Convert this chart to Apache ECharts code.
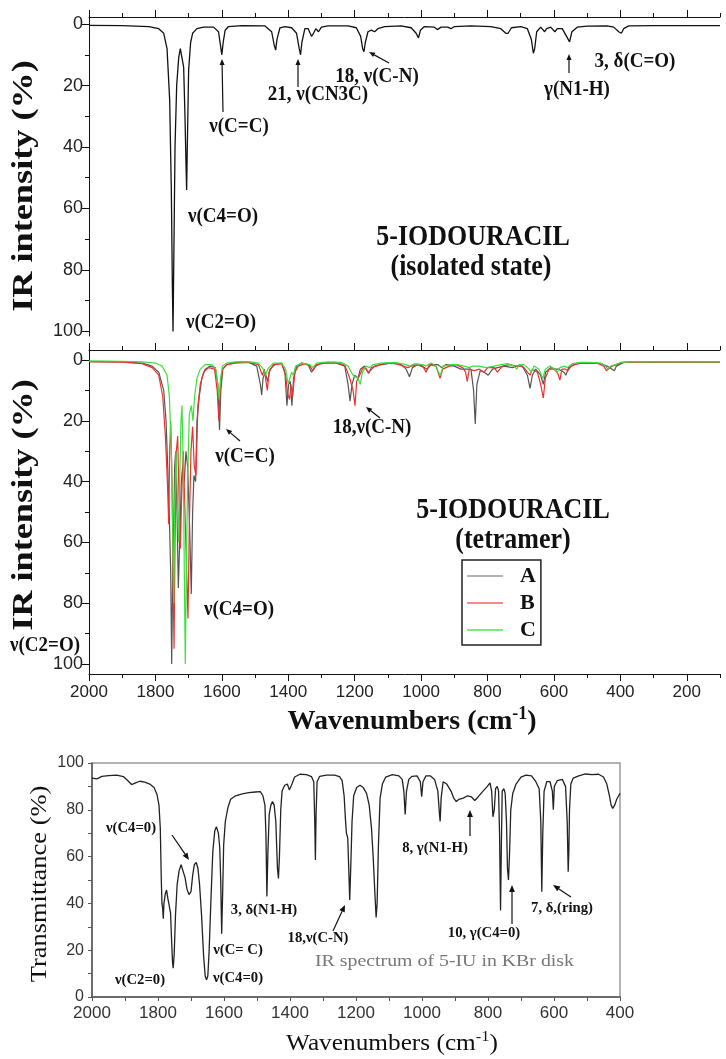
<!DOCTYPE html>
<html>
<head>
<meta charset="utf-8">
<script src="https://cdn.jsdelivr.net/npm/echarts@6/dist/echarts.min.js"></script>
<style>
  html, body { margin: 0; padding: 0; background: #fff; }
  #chart { width: 726px; height: 1059px; }
</style>
</head>
<body>
<div id="chart"></div>
<script>
// [wavenumber, IR intensity %] - isolated molecule (calculated)
var isolated = [[2000,0.4],[1900,0.5],[1820,0.8],[1790,1.5],[1775,3],[1765,8],[1757,25],[1752,55],[1749,85],[1747,100],[1745,80],[1741,40],[1736,20],[1730,11],[1725,8],[1720,8.5],[1715,14],[1711,30],[1708,45],[1706,54],[1704,40],[1700,15],[1694,6],[1688,3],[1675,1.5],[1655,1],[1625,1],[1610,2.5],[1604,7],[1600,10],[1596,6],[1590,2],[1580,0.8],[1540,0.5],[1470,0.6],[1450,2.5],[1442,7],[1438,8.5],[1434,5],[1425,1.2],[1410,0.8],[1390,1.2],[1375,3],[1367,8],[1363,10],[1359,6],[1350,1.5],[1340,1.5],[1330,4],[1324,3],[1317,1.5],[1309,2.5],[1300,1],[1280,0.6],[1220,0.6],[1195,1.2],[1182,4],[1176,8],[1172,9],[1168,6],[1160,2.5],[1150,2],[1140,2.5],[1130,1.5],[1110,0.8],[1060,0.6],[1030,1.2],[1015,3],[1008,4.5],[1002,2],[990,0.8],[960,1],[951,1.8],[940,1],[920,1],[910,1.5],[900,0.8],[850,0.6],[790,0.8],[760,1.5],[745,3],[738,3],[728,1.2],[700,0.8],[680,1.5],[668,5],[662,9.5],[658,8],[652,2.5],[640,1],[628,2.5],[622,1.5],[610,1],[597,2.5],[590,1.5],[575,1.5],[562,4],[553,5.8],[546,2.5],[530,1],[500,0.7],[440,0.6],[420,1],[405,2.5],[397,3],[390,1.5],[375,0.6],[300,0.5],[200,0.5],[100,0.5]];

// tetramer forms A, B, C
var tetramerA = [[2000,0.5],[1900,0.6],[1840,1],[1810,2],[1790,4],[1775,10],[1768,20],[1763,35],[1758,52],[1754,70],[1751,100],[1748,70],[1745,55],[1742,35],[1739,30],[1735,50],[1731,75],[1727,60],[1722,40],[1718,35],[1713,40],[1708,30],[1703,35],[1697,55],[1692,77],[1688,50],[1684,38],[1679,40],[1675,20],[1668,12],[1660,6],[1650,3],[1635,2],[1620,2.5],[1612,8],[1607,23],[1603,10],[1597,3],[1585,1.5],[1560,0.8],[1520,0.7],[1495,2],[1484,8],[1480,11.5],[1476,6],[1470,4],[1462,7],[1455,3],[1440,1.5],[1420,1],[1410,4],[1404,15],[1399,8],[1394,7],[1389,15],[1384,6],[1375,2],[1360,1],[1340,1.5],[1330,4],[1324,4.5],[1318,2],[1300,1],[1260,0.8],[1230,2],[1220,8],[1214,13.5],[1208,8],[1200,5],[1190,6],[1183,3],[1170,2],[1160,4],[1153,3.5],[1140,2],[1120,1.5],[1090,1],[1060,1.5],[1045,3],[1035,5.5],[1026,2.5],[1010,1.5],[990,2.5],[982,3],[970,1.5],[950,1.5],[938,2.5],[925,1.5],[900,2],[880,3],[868,3],[850,3],[842,10],[837,21],[832,8],[822,3.5],[810,4],[798,5],[785,3],[770,2.5],[750,2],[725,2.5],[712,2],[695,2],[680,5],[672,9.3],[665,5],[655,3],[640,5],[632,8],[625,4],[610,2.5],[595,3],[585,3],[570,4],[564,5],[556,2.5],[540,1.5],[520,1],[490,1],[460,1.2],[440,2],[425,3],[418,3.5],[412,2],[390,0.8],[350,0.6],[300,0.8],[250,0.7],[200,0.6],[150,0.8],[100,0.7]];
var tetramerB = [[2000,0.5],[1900,0.7],[1840,1.2],[1810,2.5],[1790,5],[1778,12],[1770,25],[1764,40],[1760,54],[1757,30],[1754,20],[1750,40],[1747,70],[1744,95],[1741,60],[1737,30],[1733,25],[1729,45],[1725,62],[1721,45],[1716,30],[1711,50],[1706,70],[1702,85],[1698,55],[1693,30],[1688,22],[1683,35],[1678,38],[1672,15],[1665,8],[1655,4],[1640,2.5],[1622,3],[1614,10],[1609,20],[1605,10],[1598,3],[1585,1.5],[1560,1],[1520,0.8],[1490,1.5],[1478,5],[1472,3],[1467,7],[1463,10],[1458,4],[1445,1.5],[1420,1.2],[1408,5],[1402,11],[1396,13],[1392,8],[1387,12],[1380,4],[1370,2],[1350,1.2],[1335,2],[1326,3.5],[1315,1.5],[1290,1],[1255,1],[1230,1.5],[1215,6],[1205,10],[1199,15],[1194,7],[1185,5],[1175,2.5],[1165,3],[1158,4.4],[1150,2.5],[1135,2],[1115,1.2],[1080,1],[1040,2.5],[1030,2],[1010,1.5],[995,2],[985,4],[975,1.5],[955,2],[943,6],[935,3],[915,2],[895,1.5],[875,2.5],[866,4],[861,7],[855,3],[840,3.5],[825,3],[810,4],[800,2.5],[780,2.5],[770,4],[765,4],[755,2],[735,1.5],[715,2],[700,2],[690,2.5],[680,4],[672,5],[665,3],[650,4],[640,8],[632,12.5],[626,6],[615,3],[600,3],[588,4.5],[582,6.6],[576,3],[565,3],[558,3.5],[548,2],[530,1.2],[500,1],[470,1],[450,2],[442,3.5],[436,3],[425,2],[410,1.5],[395,0.8],[350,0.7],[300,0.6],[250,0.8],[200,0.7],[150,0.6],[100,0.7]];
var tetramerC = [[2000,0.3],[1900,0.4],[1840,0.6],[1800,1],[1780,2],[1765,5],[1758,12],[1752,30],[1748,55],[1745,80],[1742,50],[1738,30],[1734,45],[1730,60],[1727,40],[1723,20],[1720,15],[1716,35],[1713,70],[1710,100],[1707,70],[1703,40],[1698,18],[1692,15],[1687,20],[1682,12],[1675,6],[1665,3],[1650,1.5],[1630,1.5],[1618,3],[1612,8],[1608,13],[1604,6],[1598,2],[1585,1],[1560,0.6],[1520,0.5],[1490,1],[1475,3],[1468,5],[1462,3],[1445,1],[1420,1],[1408,3],[1400,8],[1395,6],[1390,4],[1385,5],[1378,2],[1360,1],[1335,1.5],[1326,2.5],[1315,1],[1280,0.6],[1240,0.8],[1220,2],[1205,5],[1190,6],[1183,8],[1177,4],[1165,2],[1155,2.5],[1145,1.5],[1120,1],[1080,0.8],[1045,1.5],[1035,2],[1020,1.2],[995,1.5],[985,2],[970,1],[955,2],[948,4],[942,5],[934,2],[910,1.5],[890,1.5],[870,2],[855,2.5],[845,2],[825,2],[805,2.5],[780,2],[760,1.5],[740,1.2],[720,2],[712,3],[705,1.5],[690,1.5],[675,3],[668,4],[660,2],[645,3],[638,5],[633,6],[626,3],[612,2],[598,3],[590,4],[582,2.5],[568,2],[560,2.5],[545,1.2],[520,0.8],[490,0.8],[460,1],[445,2],[438,3],[430,2],[415,1.5],[400,0.8],[350,0.5],[300,0.6],[250,0.5],[200,0.6],[150,0.5],[100,0.6]];

// [wavenumber, transmittance %] - experimental KBr disk
var kbrDisk = [[2000,93.5],[1985,93.2],[1970,94.3],[1950,94.6],[1925,94.8],[1905,94.2],[1892,92.5],[1880,90.8],[1868,91.5],[1855,92.2],[1840,91.8],[1825,91],[1812,89.5],[1803,86.5],[1797,82],[1793,72],[1790,50],[1788,40],[1786,38],[1784,33.5],[1782,40],[1778,44],[1774,45.7],[1770,42],[1766,39],[1762,36],[1759,25],[1756,15],[1754,12.3],[1751,18],[1747,35],[1742,48],[1736,54],[1730,56.5],[1724,56],[1718,51],[1712,46],[1706,43.8],[1700,45],[1695,52],[1690,56.5],[1684,57.5],[1679,55],[1674,48],[1668,35],[1662,18],[1657,9],[1653,7.3],[1649,9],[1645,20],[1640,40],[1634,62],[1628,71],[1623,72.8],[1617,70],[1613,64],[1610,50],[1607,27],[1604,45],[1601,65],[1596,75],[1588,81],[1580,84.5],[1565,86],[1545,86.8],[1525,87.3],[1505,87.6],[1490,87.8],[1482,86],[1476,82],[1473,70],[1470,43],[1467,62],[1463,78],[1458,82],[1453,83.5],[1448,82],[1443,75],[1438,55],[1435,50.7],[1432,60],[1428,80],[1424,88],[1416,90.5],[1408,91],[1402,88.5],[1398,87.7],[1394,91],[1386,94],[1370,95.2],[1350,95],[1335,94.2],[1328,92],[1325,75],[1323,58.5],[1321,78],[1318,92],[1310,94.3],[1290,94.8],[1265,94.8],[1250,94.2],[1242,92.5],[1236,86],[1232,76],[1229,70],[1225,68],[1222,55],[1219,41.5],[1216,55],[1212,75],[1207,86],[1198,89.5],[1188,90.5],[1178,89.5],[1168,87],[1160,82],[1153,72],[1148,60],[1143,45],[1139,34],[1136,40],[1132,65],[1127,85],[1120,91],[1110,94],[1090,95],[1070,94.5],[1060,93],[1055,88],[1051,78],[1047,88],[1040,93],[1030,94.3],[1015,94.5],[1005,92],[1001,85.6],[997,92],[988,94.5],[975,94.5],[962,93],[952,88],[947,78],[945,75],[942,85],[936,92],[925,91],[912,88],[904,85],[896,83.5],[888,84.5],[875,85],[862,86],[850,85.5],[840,84],[830,85.5],[815,88],[802,90],[794,91.5],[789,88],[785,77],[781,80],[777,89],[772,90],[768,88],[765,70],[762,37],[760,60],[757,88],[752,89],[748,87],[744,75],[741,55],[738,50],[735,60],[731,80],[725,87],[715,91],[700,94],[685,94.8],[668,94.5],[655,92],[645,89],[640,75],[637,45],[634,70],[630,88],[622,92],[612,92],[605,88],[602,80],[599,90],[590,92.5],[575,93],[565,90],[560,75],[557,53.5],[555,62],[553,80],[549,91],[542,93.5],[525,94.5],[505,95.3],[485,95],[465,95.2],[450,94],[440,91],[432,86],[427,82],[422,80.6],[416,82],[410,84.5],[404,86],[400,87]];

var wnMajor = [200, 400, 600, 800, 1000, 1200, 1400, 1600, 1800, 2000];
var wnMinor = [100, 300, 500, 700, 900, 1100, 1300, 1500, 1700, 1900];
var intensityTicks = [0, 20, 40, 60, 80, 100];
var intensityMinor = [10, 30, 50, 70, 90];
var legendNames = ['A', 'B', 'C'];

var serif = '"Liberation Serif", "Times New Roman", serif';
var sans = '"Liberation Sans", Arial, sans-serif';
var ink = '#111';

function plain(v) { return String(v); }
function every200(v) { return v % 200 === 0 ? String(v) : ''; }
function every20(v) { return v % 20 === 0 ? String(v) : ''; }

function wnAxis(grid, pos, labels, minor) {
  return {
    type: 'value', gridIndex: grid, position: pos, inverse: true, min: 100, max: 2000,
    axisLine: { show: !minor, onZero: false, lineStyle: { color: ink, width: 1 } },
    axisTick: { show: true, length: minor ? 4 : 7, customValues: minor ? wnMinor : wnMajor, lineStyle: { color: ink } },
    axisLabel: { show: labels && !minor, customValues: wnMajor, formatter: plain, color: '#222', fontFamily: sans, fontSize: 17, margin: 10 },
    splitLine: { show: false }
  };
}
function intAxis(grid, min, max, minor) {
  return {
    type: 'value', gridIndex: grid, position: 'left', inverse: true, min: min, max: max,
    axisLine: { show: !minor, onZero: false, lineStyle: { color: ink, width: 1 } },
    axisTick: { show: true, length: minor ? 4 : 7, customValues: minor ? intensityMinor : intensityTicks, lineStyle: { color: ink } },
    axisLabel: { show: !minor, customValues: intensityTicks, formatter: plain, color: '#222', fontFamily: sans, fontSize: 18, margin: 6 },
    splitLine: { show: false }
  };
}

function txt(text, x, y, size, opts) {
  opts = opts || {};
  return {
    type: 'text', x: x, y: y, silent: true, rotation: opts.rot || 0,
    scaleX: opts.sx || 1, scaleY: opts.sy || 1,
    style: {
      text: text, fill: opts.color || ink, fontFamily: serif, fontSize: size,
      fontWeight: opts.weight || 'bold', align: opts.align || 'center', verticalAlign: 'middle',
      rich: opts.rich
    }
  };
}
function arrow(x1, y1, x2, y2, head) {
  head = head || 6;
  var a = Math.atan2(y2 - y1, x2 - x1), w = head * 0.42;
  var bx = x2 - head * Math.cos(a), by = y2 - head * Math.sin(a);
  return [
    { type: 'line', silent: true, shape: { x1: x1, y1: y1, x2: bx, y2: by }, style: { stroke: ink, lineWidth: 1.2 } },
    { type: 'polygon', silent: true, shape: { points: [[x2, y2], [bx - w * Math.sin(a), by + w * Math.cos(a)], [bx + w * Math.sin(a), by - w * Math.cos(a)]] }, style: { fill: ink } }
  ];
}
function wnTitle(x, y, size, weight, sup, sx) {
  var base = { fontFamily: serif, fontSize: size, fontWeight: weight, fill: ink, lineHeight: size + 6 };
  var up = { fontFamily: serif, fontSize: sup, fontWeight: weight, fill: ink, verticalAlign: 'top', lineHeight: sup + 2 };
  return txt('{a|Wavenumbers (cm}{s|-1}{a|)}', x, y, size, { weight: weight, sx: sx, rich: { a: base, s: up } });
}

var graphics = [
  // axis titles
  txt('IR intensity (%)', 25, 186, 29, { rot: Math.PI / 2, sx: 1.25 }),
  txt('IR intensity (%)', 25, 505, 29, { rot: Math.PI / 2, sx: 1.25 }),
  wnTitle(412, 722, 28, 'bold', 18, 1),
  txt('Transmittance (%)', 40, 884, 23, { rot: Math.PI / 2, weight: 'normal', sx: 1.15 }),
  wnTitle(392, 1044, 23, 'normal', 15, 1.1),

  // isolated state panel
  txt('ν(C=C)', 239, 127, 19, { sy: 1.1 }),
  txt('21, ν(CN3C)', 318, 95, 19, { sy: 1.1 }),
  txt('18, ν(C-N)', 377, 77, 19, { sy: 1.1 }),
  txt('3, δ(C=O)', 635, 62, 19, { sy: 1.1 }),
  txt('γ(N1-H)', 577, 90, 19, { sy: 1.1 }),
  txt('ν(C4=O)', 223, 217, 19, { sy: 1.1 }),
  txt('ν(C2=O)', 221, 323, 19, { sy: 1.1 }),
  txt('5-IODOURACIL', 473, 237, 26, { sy: 1.12 }),
  txt('(isolated state)', 471, 267, 26, { sy: 1.12 }),

  // tetramer panel
  txt('ν(C=C)', 245, 457, 19, { sy: 1.1 }),
  txt('18,ν(C-N)', 372, 428, 19, { sy: 1.1 }),
  txt('ν(C4=O)', 239, 610, 19, { sy: 1.1 }),
  txt('ν(C2=O)', 45, 646, 19, { sy: 1.1 }),
  txt('5-IODOURACIL', 513, 510, 26, { sy: 1.12 }),
  txt('(tetramer)', 513, 540, 26, { sy: 1.12 }),

  // KBr panel
  txt('ν(C4=0)', 131, 828, 14, { sx: 1.05 }),
  txt('ν(C2=0)', 140, 980, 14, { sx: 1.05 }),
  txt('ν(C= C)', 238, 950, 14, { sx: 1.05 }),
  txt('ν(C4=0)', 238, 978, 14, { sx: 1.05 }),
  txt('3, δ(N1-H)', 264, 910, 14, { sx: 1.05 }),
  txt('18,ν(C-N)', 318, 938, 14, { sx: 1.05 }),
  txt('8, γ(N1-H)', 435, 848, 14, { sx: 1.05 }),
  txt('10, γ(C4=0)', 484, 933, 14, { sx: 1.05 }),
  txt('7, δ,(ring)', 562, 908, 14, { sx: 1.05 }),
  txt('IR spectrum of 5-IU in KBr disk', 315, 962, 16, { weight: 'normal', color: '#777', align: 'left', sx: 1.24 })
].concat(
  arrow(223, 112, 222, 59),
  arrow(298, 87, 298, 59),
  arrow(389, 63, 369, 52),
  arrow(569, 73, 569, 54),
  arrow(240, 441, 226, 429),
  arrow(380, 418, 366, 407),
  arrow(172, 835, 189, 860, 7),
  arrow(333, 931, 345, 905, 7),
  arrow(470, 836, 470, 810, 7),
  arrow(512, 924, 512, 885, 7),
  arrow(571, 897, 553, 885, 7)
);

function line(name, data, color, xi, yi, width) {
  return {
    name: name, type: 'line', data: data, xAxisIndex: xi, yAxisIndex: yi,
    symbol: 'none', smooth: false, silent: true,
    lineStyle: { color: color, width: width || 1.2 }, itemStyle: { color: color }
  };
}

var option = {
  animation: false,
  backgroundColor: '#fff',
  grid: [
    { left: 89, width: 631, top: 17, height: 319 },
    { left: 89, width: 631, top: 350, height: 324 },
    { left: 92, width: 528, top: 763, height: 234, show: true, borderColor: '#999', borderWidth: 1.5 }
  ],
  xAxis: [
    wnAxis(0, 'top', false, false),
    wnAxis(0, 'top', false, true),
    wnAxis(1, 'top', false, false),
    wnAxis(1, 'top', false, true),
    wnAxis(1, 'bottom', true, false),
    wnAxis(1, 'bottom', false, true),
    {
      type: 'value', gridIndex: 2, position: 'bottom', inverse: true,
      min: 400, max: 2000, interval: 100,
      axisLine: { show: true, onZero: false, lineStyle: { color: '#555', width: 1.5 } },
      axisTick: { show: true, length: 4, lineStyle: { color: '#555' } },
      axisLabel: { formatter: every200, color: '#333', fontFamily: sans, fontSize: 17, margin: 8 },
      splitLine: { show: false }
    }
  ],
  yAxis: [
    intAxis(0, -2.3, 101.5, false),
    intAxis(0, -2.3, 101.5, true),
    intAxis(1, -3.3, 103.3, false),
    intAxis(1, -3.3, 103.3, true),
    {
      type: 'value', gridIndex: 2, min: 0, max: 100, interval: 10,
      axisLine: { show: true, lineStyle: { color: '#555', width: 1.5 } },
      axisTick: { show: true, length: 4, lineStyle: { color: '#555' } },
      axisLabel: { formatter: every20, color: '#333', fontFamily: sans, fontSize: 16, margin: 8 },
      splitLine: { show: false }
    }
  ],
  legend: {
    data: [
      { name: legendNames[0], itemStyle: { color: '#999' } },
      { name: legendNames[1], itemStyle: { color: '#f06464' } },
      { name: legendNames[2], itemStyle: { color: '#55e055' } }
    ],
    orient: 'vertical', left: 462, top: 560,
    icon: 'rect', itemWidth: 36, itemHeight: 1.5, itemGap: 5,
    padding: [5, 5, 4, 5],
    borderColor: '#222', borderWidth: 1.5,
    selectedMode: false,
    textStyle: { fontFamily: serif, fontWeight: 'bold', fontSize: 22, color: ink, padding: [0, 0, 0, 12] }
  },
  series: [
    line('isolated', isolated, '#111', 0, 0, 1.3),
    line(legendNames[0], tetramerA, '#555', 4, 2),
    line(legendNames[1], tetramerB, '#ee3030', 4, 2),
    line(legendNames[2], tetramerC, '#3ce03c', 4, 2),
    line('KBr', kbrDisk, '#222', 6, 4, 1.3)
  ],
  graphic: graphics
};

var chart = echarts.init(document.getElementById('chart'));
chart.setOption(option);
</script>
</body>
</html>
